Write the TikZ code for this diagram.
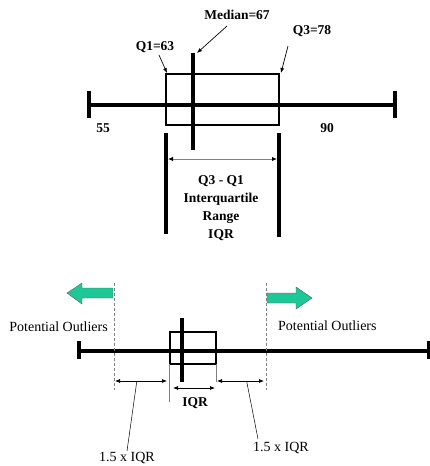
\documentclass[tikz,border=0pt]{standalone}
\usepackage{fontspec}
\setmainfont{Liberation Serif}
\usetikzlibrary{arrows.meta,positioning,calc}
\definecolor{outgreen}{RGB}{30,200,150}

\tikzset{
  plotline/.style={line width=3.2pt},
  boxline/.style={line width=2pt},
  dimarrow/.style={{Latex[length=5pt,width=4pt]}-{Latex[length=5pt,width=4pt]},line width=0.7pt},
  leader/.style={-{Latex[length=5pt,width=4pt]},line width=0.7pt},
  boldlbl/.style={font=\fontsize{13.5}{14}\selectfont\bfseries,inner sep=1pt},
  lbl/.style={font=\fontsize{14}{15}\selectfont,inner sep=1pt},
  fence/.style={densely dashed,gray,line width=0.6pt},
  greenarrow/.style={draw=gray!70!black,fill=outgreen,line width=0.4pt}
}

\begin{document}
\begin{tikzpicture}[x=1pt,y=-1pt]
   \useasboundingbox (0,0) rectangle (430,466);

   % Oberer Boxplot
   \coordinate (wl) at (89,105);
   \coordinate (wr) at (395,105);
   \draw[plotline] (wl) -- (wr);
   \draw[plotline] ($(wl)+(0,-14)$) -- ($(wl)+(0,13)$);
   \draw[plotline] ($(wr)+(0,-14)$) -- ($(wr)+(0,13)$);
   \draw[boxline] (166,74) coordinate (q1) rectangle (279,125) coordinate (q3b);
   \coordinate (q3) at (279,74);
   \coordinate (medtop) at (193,53);
   \draw[plotline] (medtop) -- (193,150);
   \draw[plotline] (166,133) coordinate (fl) -- (166,234);
   \draw[plotline] (279,133) coordinate (fr) -- (279,237);

   \node[boldlbl] (median) at (237,15) {Median=67};
   \node[boldlbl] (lq1) at (155,47) {Q1=63};
   \node[boldlbl] (lq3) at (312,31) {Q3=78};
   \node[boldlbl] (min) at (103,128) {55};
   \node[boldlbl] (max) at (327,128) {90};

   \draw[leader] (227,26) -- ($(medtop)+(4,0)$);
   \draw[leader] (159,55) -- ($(q1)+(1,-1)$);
   \draw[leader] (288,46) -- ($(q3)+(2,-1)$);

   \coordinate (iqrl) at (168,159);
   \coordinate (iqrr) at (277,159);
   \draw[gray,line width=1pt,{Latex[length=5pt,width=4.5pt,black]}-{Latex[length=5pt,width=4.5pt,black]}] (iqrl) -- (iqrr);
   \node[boldlbl,align=center,font=\fontsize{13.5}{18}\selectfont\bfseries] (iqrtext) at (221,208)
     {Q3 - Q1\\Interquartile\\Range\\IQR};

   % Unterer Boxplot
   \coordinate (bl) at (79,351);
   \coordinate (br) at (430,351);
   \draw[plotline] (bl) -- (br);
   \draw[plotline] ($(bl)+(0,-10)$) -- ($(bl)+(0,8)$);
   \draw[plotline] ($(br)+(-1,-10)$) -- ($(br)+(-1,8)$);
   \draw[boxline] (170,332) rectangle (216,364);
   \draw[plotline] (182,318) -- (182,382);

   \coordinate (fenceL) at (114,283);
   \coordinate (fenceR) at (266,283);
   \draw[fence] (fenceL) -- (114,390);
   \draw[fence] (fenceR) -- (266,390);

   \draw[greenarrow] (113,288) -- (82,288) -- (82,283) -- (67,293) -- (82,304) -- (82,298) -- (113,298) -- cycle;
   \draw[greenarrow] (267,293) -- (296,293) -- (296,287) -- (312,298) -- (296,309) -- (296,303) -- (267,303) -- cycle;

   \node[lbl,anchor=east] (outl) at (109,327) {Potential Outliers};
   \node[lbl,anchor=west] (outr) at (277,326) {Potential Outliers};

   \draw[gray,line width=0.7pt] (169,364) -- (169,402);
   \draw[gray,line width=0.7pt] (216,364) -- (216,382);

   \draw[dimarrow] (115,381) coordinate (dl1) -- (167,381) coordinate (dl2);
   \draw[dimarrow] (217,381) coordinate (dr1) -- (264,381) coordinate (dr2);
   \draw[dimarrow] (173,388) -- (215,388);
   \node[boldlbl] (iqrsmall) at (195,403) {IQR};

   \node[lbl] (fac1) at (127,458) {1.5 x IQR};
   \node[lbl] (fac2) at (281,448) {1.5 x IQR};
   \draw[line width=0.5pt] ($(dl1)!0.42!(dl2)$) -- (fac1.north);
   \draw[line width=0.5pt] ($(dr1)!0.63!(dr2)$) -- (258,439);
\end{tikzpicture}
\end{document}
